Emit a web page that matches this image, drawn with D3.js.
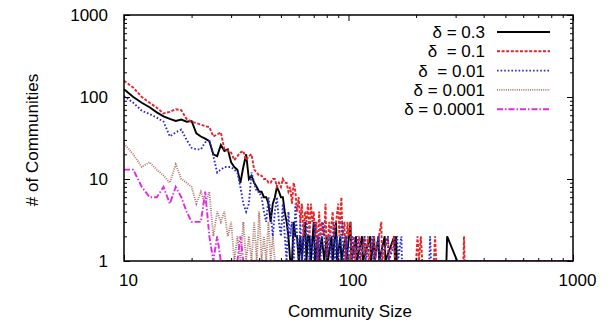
<!DOCTYPE html>
<html>
<head>
<meta charset="utf-8">
<script src="https://cdn.jsdelivr.net/npm/d3@7"></script>
<style>
  body { margin: 0; background: #fff; }
  text { font-family: "Liberation Sans", Arial, sans-serif; fill: #000; }
</style>
</head>
<body>
<svg id="chart"></svg>
<script>
// community size vs. number of communities, one series per delta
let d03 = [[10,124],[11,100],[12,85],[13,75],[14,65],[15,58],[16,54],[17,51],[18,53],[19,50],[20,51],
  [21,36],[22,33],[23,31],[24,29],[25,20],[26,19],[27,26],[28,22],[29,23],[30,16],[31,14],[32,13],[33,9],
  [34,14],[35,20],[36,10],[37,11],[38,9],[39,8],[40,7],[41,7],[42,6],[43,6],[44,5],[45,3],[46,5],[47,6],
  [48,8],[49,7],[50,6],[51,6],[52,4],[53,3],[54,2],[55,1],[56,1],[57,3],[58,2],[59,2],[60,1],
  [61,2],[62,1],[63,2],[64,3],[65,1],[66,2],[67,2],[68,1],[70,3],[71,1],[73,2],[74,1],[76,2],[78,1],
  [80,2],[81,1],[84,2],[85,1],[88,3],[89,1],[92,2],[93,1],[97,2],[98,1],[102,3],[103,1],[108,2],[109,1],
  [115,2],[116,1],[125,2],[126,1],[130,2],[131,1],[136,2],[137,1],[145,2],[146,1],[160,2],[161,1],
  [163,2],[164,1],[273,1],[275,2],[305,1],[1000,1]]

let d01 = [[10,158],[11,130],[12,100],[13,85],[14,74],[15,63],[16,66],[17,71],[18,69],[19,54],[20,50],
  [21,48],[22,46],[23,44],[24,43],[25,33],[26,35],[27,37],[28,23],[29,22],[30,21],[31,17],[32,19],[33,21],
  [34,22],[35,17],[36,19],[37,20],[38,13],[39,12],[40,11],[41,11],[42,10],[43,10],[44,9],[45,9],[46,10],
  [47,10],[48,8],[49,9],[50,8],[51,10],[52,9],[53,9],[54,7],[55,8],[56,5],[57,9],[58,7],[59,4],[60,6],
  [61,3],[62,5],[63,2],[64,4],[65,3],[66,5],[67,2],[68,5],[69,3],[70,4],[71,2],[72,3],[73,1],[74,4],
  [75,2],[76,3],[78,2],[79,5],[80,1],[82,3],[83,2],[85,4],[86,2],[88,3],[90,5],[91,2],[93,6],[94,2],
  [96,3],[97,1],[99,3],[100,2],[102,3],[103,1],[106,2],[107,1],[112,2],[113,1],[118,2],[119,1],[122,2],
  [123,1],[130,2],[131,1],[140,3],[141,1],[150,2],[151,1],[160,2],[161,1],[200,1],[203,2],[206,1],
  [210,2],[213,1],[240,1],[243,2],[246,1],[325,1],[327,2],[329,1],[1000,1]]

let d001 = [[10,103],[11,85],[12,68],[13,62],[14,56],[15,50],[16,33],[17,37],[18,40],[19,30],[20,24],
  [21,23],[22,23],[23,28],[24,29],[25,19],[26,12],[27,13],[28,14],[29,14],[30,14],[31,13],[32,12],[33,8],
  [34,5],[35,4],[36,5],[37,12],[38,9],[39,7],[40,7],[41,6],[42,4],[43,3],[44,6],[45,4],[46,2],[47,4],
  [48,6],[49,3],[50,2],[51,5],[52,2],[53,1],[54,4],[55,2],[56,3],[57,1],[58,5],[59,2],[60,1],
  [61,3],[62,1],[63,2],[64,1],[65,3],[66,2],[67,1],[68,2],[70,1],[71,3],[72,1],[74,2],[75,1],[77,3],
  [78,2],[80,1],[82,2],[84,1],[86,3],[87,1],[89,2],[90,1],[94,3],[95,1],[98,2],[99,1],[104,2],[105,1],
  [110,2],[111,1],[118,2],[119,1],[128,2],[129,1],[136,2],[137,1],[150,2],[151,1],[165,2],[166,1],
  [172,2],[173,1],[229,1],[231,2],[233,1],[1000,1]]

let d0001 = [[10,27],[11,20],[12,14],[13,16],[14,13],[15,11],[16,9],[17,15],[18,10],[19,9],[20,8],
  [21,5],[22,7],[23,5],[24,7],[25,2],[26,4],[27,3],[28,4],[29,2],[30,3],[31,1],[32,2],[33,1],[34,3],
  [35,1],[36,2],[37,1],[38,3],[39,1],[40,4],[41,1],[42,2],[43,1],[44,3],[45,1],[46,2],[47,1],[50,1],[1000,1]]

let d00001 = [[10,13],[11,13],[12,8],[13,6],[14,6],[15,8],[16,5],[17,8],[18,6],[19,4],[20,3],
  [21,3],[22,3],[23,7],[24,2],[25,1],[26,2],[27,1],[32,1],[33,2],[34,1],[1000,1]]

let seriesNames = ['\u03b4 = 0.3', '\u03b4  = 0.1', '\u03b4  = 0.01', '\u03b4 = 0.001', '\u03b4 = 0.0001']
let seriesData = [d03, d01, d001, d0001, d00001]
let seriesColors = ['#000000', '#e3262b', '#2a2ad6', '#b07a6e', '#e12be1']
let seriesDash = [null, '3,1.6', '1.6,2', '1,1.2', '6,2,1.5,2']

let xTicks = [10, 100, 1000]
let yTicks = [1, 10, 100, 1000]

const w = 613
const h = 323
const plotLeft = 124, plotRight = 573, plotTop = 15, plotBottom = 261

let svg = d3.select('#chart').attr('width', w).attr('height', h)

let xScale = d3.scaleLog().domain([10, 1000]).range([plotLeft, plotRight])
let yScale = d3.scaleLog().domain([1, 1000]).range([plotBottom, plotTop])

let minors = (lo, hi) => {
  let out = []
  for (let p = lo; p < hi; p *= 10) {
    for (let k = 2; k <= 9; k++) out.push(p * k)
  }
  return out
}

svg.append('clipPath').attr('id', 'plot-clip')
  .append('rect').attr('x', plotLeft).attr('y', plotTop)
  .attr('width', plotRight - plotLeft).attr('height', plotBottom - plotTop)

// series lines
let line = d3.line().x(d => xScale(d[0])).y(d => yScale(d[1]))
let plot = svg.append('g').attr('clip-path', 'url(#plot-clip)')
seriesData.forEach((s, i) => {
  plot.append('path')
    .datum(s)
    .attr('fill', 'none')
    .attr('stroke', seriesColors[i])
    .attr('stroke-width', 1.9)
    .attr('stroke-dasharray', seriesDash[i])
    .attr('d', line)
})

// axes, ticks pointing inward and mirrored
let styleAxis = g => {
  g.select('.domain').remove()
  g.selectAll('line').attr('stroke', '#000').attr('stroke-width', 1)
  g.selectAll('text').style('font-size', '17px')
}

svg.append('g').attr('transform', 'translate(0,' + plotBottom + ')')
  .call(d3.axisBottom(xScale).tickValues(xTicks).tickSize(-6).tickPadding(13).tickFormat(d3.format('d')))
  .call(styleAxis)
  .selectAll('text').attr('dx', 4)
svg.append('g').attr('transform', 'translate(0,' + plotBottom + ')')
  .call(d3.axisBottom(xScale).tickValues(minors(10, 1000)).tickSize(-3).tickFormat(''))
  .call(styleAxis)
svg.append('g').attr('transform', 'translate(0,' + plotTop + ')')
  .call(d3.axisTop(xScale).tickValues(xTicks).tickSize(-6).tickFormat(''))
  .call(styleAxis)
svg.append('g').attr('transform', 'translate(0,' + plotTop + ')')
  .call(d3.axisTop(xScale).tickValues(minors(10, 1000)).tickSize(-3).tickFormat(''))
  .call(styleAxis)

svg.append('g').attr('transform', 'translate(' + plotLeft + ',0)')
  .call(d3.axisLeft(yScale).tickValues(yTicks).tickSize(-6).tickPadding(16).tickFormat(d3.format('d')))
  .call(styleAxis)
svg.append('g').attr('transform', 'translate(' + plotLeft + ',0)')
  .call(d3.axisLeft(yScale).tickValues(minors(1, 1000)).tickSize(-3).tickFormat(''))
  .call(styleAxis)
svg.append('g').attr('transform', 'translate(' + plotRight + ',0)')
  .call(d3.axisRight(yScale).tickValues(yTicks).tickSize(-6).tickFormat(''))
  .call(styleAxis)
svg.append('g').attr('transform', 'translate(' + plotRight + ',0)')
  .call(d3.axisRight(yScale).tickValues(minors(1, 1000)).tickSize(-3).tickFormat(''))
  .call(styleAxis)

svg.append('rect')
  .attr('x', plotLeft).attr('y', plotTop)
  .attr('width', plotRight - plotLeft).attr('height', plotBottom - plotTop)
  .attr('fill', 'none').attr('stroke', '#000').attr('stroke-width', 1.5)

// legend
let legend = svg.append('g')
seriesNames.forEach((name, i) => {
  let y = 32 + i * 19.3
  legend.append('text')
    .attr('x', 485).attr('y', y)
    .attr('dy', '0.35em')
    .attr('text-anchor', 'end')
    .style('font-size', '17px')
    .style('white-space', 'pre')
    .text(name)
  legend.append('line')
    .attr('x1', 497).attr('x2', 550).attr('y1', y).attr('y2', y)
    .attr('stroke', seriesColors[i])
    .attr('stroke-width', 1.9)
    .attr('stroke-dasharray', seriesDash[i])
})

// axis titles
svg.append('text')
  .attr('x', 350).attr('y', 311)
  .attr('dy', '0.35em')
  .attr('text-anchor', 'middle')
  .style('font-size', '17px')
  .text('Community Size')

svg.append('text')
  .attr('transform', 'translate(32,140) rotate(-90)')
  .attr('dy', '0.35em')
  .attr('text-anchor', 'middle')
  .style('font-size', '17px')
  .text('# of Communities')
</script>
</body>
</html>
